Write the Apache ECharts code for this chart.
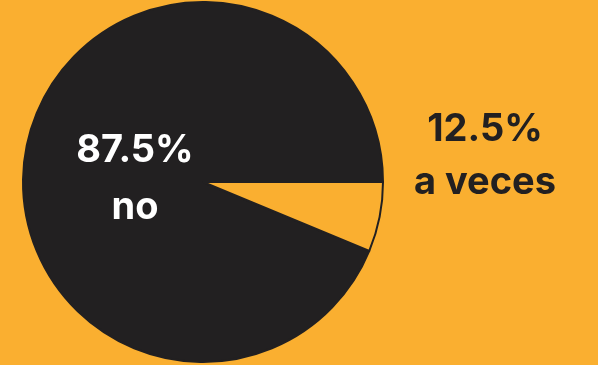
<!DOCTYPE html>
<html>
<head>
<meta charset="UTF-8">
<title>pie</title>
<script src="https://cdn.jsdelivr.net/npm/echarts@6/dist/echarts.min.js"></script>
<style>
  html, body { margin: 0; padding: 0; background: #faaf30; }
  #main { width: 598px; height: 365px; }
</style>
</head>
<body>
<div id="main"></div>
<script type="text/javascript">
    // categories and the percentages printed on the chart
    var categories = ['no', 'a veces'];
    var printedPct = [87.5, 12.5];
    // share of the circle each slice actually covers in the picture (~22.5 deg wedge)
    var sliceShare = [93.75, 6.25];

    var dark = '#222021';
    var yellow = '#faaf30';

    // where each label block sits (centre of text) and its line spacing
    var labelPos = [[135, 179], [485, 156]];
    var labelLine = [57, 53];
    var labelColor = ['#ffffff', dark];

    var myChart = echarts.init(document.getElementById('main'));
    var data = [];
    for (var i = 0; i < categories.length; i++) {
        data.push({
            name: categories[i],
            value: sliceShare[i],
            label: {
                rich: {
                    v: {
                        fontFamily: 'Inter',
                        fontWeight: 700,
                        fontSize: 38,
                        lineHeight: labelLine[i],
                        align: 'center',
                        color: labelColor[i]
                    }
                }
            }
        });
    }

    var option = {
        backgroundColor: yellow,
        animation: false,
        series: [
            {
                type: 'pie',
                center: [203, 182],
                radius: 180,
                startAngle: -22.5,
                clockwise: true,
                data: data,
                itemStyle: {
                    color: function (p) { return p.dataIndex === 0 ? dark : yellow; },
                    borderColor: dark,
                    borderWidth: 2
                },
                label: {
                    show: true,
                    position: 'inside',
                    formatter: function (p) {
                        return '{v|' + printedPct[p.dataIndex] + '%}\n{v|' + p.name + '}';
                    }
                },
                labelLine: { show: false },
                labelLayout: function (p) {
                    return {
                        x: labelPos[p.dataIndex][0],
                        y: labelPos[p.dataIndex][1],
                        align: 'center',
                        verticalAlign: 'middle'
                    };
                },
                emphasis: { disabled: true }
            }
        ]
    };

    myChart.setOption(option);
</script>
</body>
</html>
